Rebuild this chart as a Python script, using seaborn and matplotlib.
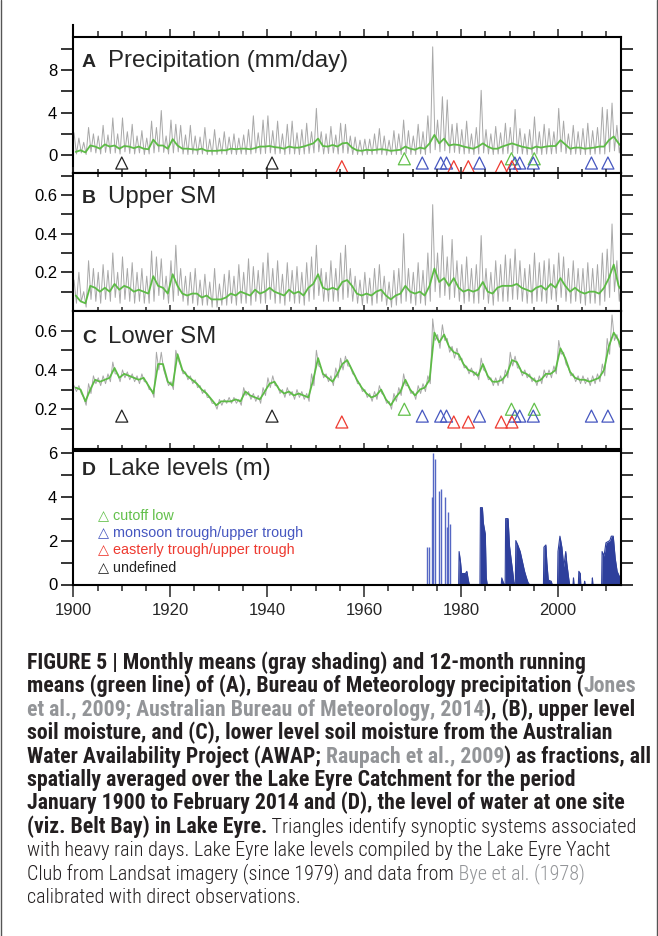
import numpy as np
import matplotlib
matplotlib.use("Agg")
import matplotlib.pyplot as plt
import seaborn as sns
from matplotlib import font_manager as fm
from matplotlib.lines import Line2D
from matplotlib.ticker import FixedLocator, MultipleLocator

# ---- data (one value per year, 1900-2013) ----
years = np.arange(1900, 2014)

# A: precipitation (mm/day) - wet season peak, dry season low, running mean
precip_peak = [2.1, 1.6, 1.2, 2.6, 2.0, 1.8, 2.8, 1.9, 3.5, 2.0,
               3.5, 2.2, 2.9, 1.8, 2.3, 1.6, 3.2, 2.6, 4.2, 1.8,
               3.3, 2.9, 2.8, 1.9, 2.8, 1.8, 1.7, 2.6, 1.5, 2.4,
               1.6, 2.2, 1.7, 2.0, 1.6, 1.9, 2.4, 3.7, 2.1, 3.3,
               3.7, 2.3, 3.2, 2.0, 2.9, 3.2, 2.1, 2.4, 3.0, 2.2,
               4.4, 2.2, 2.0, 2.7, 1.9, 3.0, 2.9, 1.8, 1.7, 1.4,
               1.5, 1.5, 2.0, 2.5, 1.8, 1.4, 2.3, 2.0, 3.3, 2.3,
               1.8, 2.9, 2.2, 3.7, 10.2, 3.3, 5.5, 5.2, 2.9, 3.0,
               2.4, 3.2, 2.0, 2.6, 6.1, 2.4, 2.0, 2.7, 2.1, 3.0,
               2.6, 4.3, 2.5, 2.0, 2.4, 3.6, 2.2, 2.9, 2.5, 2.2,
               4.4, 3.2, 2.0, 2.8, 2.2, 2.5, 3.0, 2.3, 2.6, 4.5,
               4.3, 4.9, 2.8, 1.9]
precip_low = [0.1, 0.2, 0.05, 0.3, 0.2, 0.1, 0.25, 0.15, 0.2, 0.1,
              0.3, 0.15, 0.1, 0.2, 0.05, 0.1, 0.2, 0.3, 0.25, 0.1,
              0.2, 0.3, 0.1, 0.05, 0.1, 0.05, 0.1, 0.05, 0.0, 0.05,
              0.1, 0.05, 0.1, 0.05, 0.1, 0.05, 0.1, 0.2, 0.1, 0.15,
              0.2, 0.1, 0.15, 0.05, 0.1, 0.1, 0.05, 0.1, 0.15, 0.2,
              0.3, 0.1, 0.15, 0.2, 0.1, 0.2, 0.15, 0.05, 0.05, 0.0,
              0.05, 0.05, 0.1, 0.05, 0.0, 0.05, 0.05, 0.05, 0.15, 0.05,
              0.05, 0.1, 0.05, 0.2, 0.5, 0.3, 0.4, 0.2, 0.25, 0.15,
              0.1, 0.15, 0.05, 0.1, 0.2, 0.1, 0.05, 0.1, 0.1, 0.15,
              0.2, 0.15, 0.1, 0.05, 0.05, 0.1, 0.05, 0.1, 0.1, 0.15,
              0.3, 0.15, 0.05, 0.1, 0.05, 0.05, 0.05, 0.1, 0.1, 0.1,
              0.3, 0.4, 0.2, 0.05]
precip_mean = [0.3, 0.45, 0.25, 0.9, 0.8, 0.6, 1.0, 0.8, 0.9, 0.6,
               0.85, 0.8, 0.65, 0.8, 0.6, 0.55, 1.45, 0.9, 0.9, 0.6,
               1.5, 0.9, 0.6, 0.6, 0.55, 0.5, 0.6, 0.4, 0.4, 0.4,
               0.45, 0.45, 0.6, 0.55, 0.6, 0.6, 0.55, 0.65, 0.8, 0.8,
               0.85, 0.75, 0.7, 0.6, 0.8, 0.7, 0.7, 0.8, 0.95, 1.1,
               1.55, 0.85, 0.8, 0.95, 0.8, 1.1, 1.15, 0.7, 0.45, 0.4,
               0.5, 0.45, 0.5, 0.55, 0.5, 0.4, 0.45, 0.5, 0.8, 0.6,
               0.5, 0.7, 0.6, 1.1, 1.9, 1.1, 1.55, 0.9, 1.0, 0.95,
               0.8, 0.7, 0.6, 0.8, 1.1, 0.8, 0.6, 0.6, 0.8, 0.95,
               1.1, 0.95, 0.8, 0.7, 0.6, 0.8, 0.7, 0.8, 0.85, 0.85,
               1.4, 1.0, 0.6, 0.7, 0.7, 0.6, 0.65, 0.7, 0.8, 0.8,
               1.4, 1.75, 1.1, 0.6]

# B: upper soil moisture
usm_peak = [0.16, 0.20, 0.10, 0.26, 0.22, 0.20, 0.24, 0.21, 0.30, 0.20,
            0.28, 0.22, 0.25, 0.20, 0.22, 0.18, 0.31, 0.28, 0.27, 0.18,
            0.26, 0.34, 0.22, 0.18, 0.20, 0.22, 0.16, 0.19, 0.15, 0.22,
            0.14, 0.19, 0.21, 0.18, 0.24, 0.20, 0.27, 0.23, 0.21, 0.25,
            0.30, 0.22, 0.26, 0.19, 0.25, 0.21, 0.23, 0.20, 0.25, 0.28,
            0.34, 0.22, 0.20, 0.26, 0.22, 0.30, 0.34, 0.22, 0.18, 0.16,
            0.20, 0.17, 0.22, 0.24, 0.18, 0.15, 0.21, 0.22, 0.40, 0.22,
            0.20, 0.25, 0.21, 0.30, 0.55, 0.30, 0.39, 0.28, 0.37, 0.26,
            0.24, 0.28, 0.22, 0.24, 0.39, 0.22, 0.20, 0.26, 0.24, 0.29,
            0.27, 0.32, 0.26, 0.22, 0.24, 0.30, 0.25, 0.26, 0.27, 0.24,
            0.30, 0.28, 0.22, 0.26, 0.22, 0.22, 0.25, 0.22, 0.24, 0.30,
            0.32, 0.45, 0.26, 0.18]
usm_low = [0.04, 0.05, 0.02, 0.06, 0.05, 0.04, 0.06, 0.05, 0.07, 0.04,
           0.06, 0.05, 0.04, 0.05, 0.04, 0.04, 0.05, 0.08, 0.06, 0.04,
           0.05, 0.08, 0.05, 0.03, 0.04, 0.03, 0.03, 0.03, 0.02, 0.02,
           0.03, 0.03, 0.04, 0.03, 0.04, 0.04, 0.03, 0.05, 0.04, 0.04,
           0.06, 0.04, 0.04, 0.03, 0.05, 0.04, 0.04, 0.03, 0.05, 0.06,
           0.08, 0.05, 0.05, 0.05, 0.05, 0.06, 0.07, 0.05, 0.04, 0.03,
           0.04, 0.03, 0.04, 0.05, 0.03, 0.02, 0.03, 0.04, 0.05, 0.04,
           0.03, 0.04, 0.03, 0.05, 0.10, 0.07, 0.08, 0.06, 0.07, 0.05,
           0.04, 0.05, 0.04, 0.04, 0.06, 0.04, 0.03, 0.05, 0.05, 0.05,
           0.06, 0.06, 0.05, 0.04, 0.04, 0.05, 0.05, 0.04, 0.06, 0.05,
           0.07, 0.05, 0.04, 0.05, 0.04, 0.03, 0.04, 0.04, 0.03, 0.05,
           0.07, 0.10, 0.05, 0.03]
usm_mean = [0.08, 0.05, 0.04, 0.13, 0.12, 0.10, 0.12, 0.10, 0.14, 0.11,
            0.13, 0.12, 0.10, 0.11, 0.10, 0.09, 0.18, 0.13, 0.12, 0.09,
            0.19, 0.13, 0.09, 0.08, 0.09, 0.09, 0.07, 0.08, 0.06, 0.06,
            0.06, 0.07, 0.09, 0.08, 0.10, 0.09, 0.08, 0.11, 0.09, 0.10,
            0.12, 0.10, 0.09, 0.08, 0.11, 0.09, 0.10, 0.08, 0.12, 0.14,
            0.19, 0.12, 0.11, 0.12, 0.11, 0.15, 0.16, 0.13, 0.09, 0.08,
            0.09, 0.08, 0.10, 0.11, 0.08, 0.06, 0.08, 0.09, 0.13, 0.10,
            0.09, 0.10, 0.08, 0.13, 0.22, 0.15, 0.17, 0.13, 0.17, 0.12,
            0.10, 0.11, 0.10, 0.11, 0.15, 0.10, 0.09, 0.12, 0.13, 0.13,
            0.13, 0.14, 0.12, 0.11, 0.10, 0.12, 0.13, 0.11, 0.14, 0.12,
            0.17, 0.13, 0.10, 0.12, 0.10, 0.09, 0.10, 0.10, 0.09, 0.12,
            0.17, 0.24, 0.13, 0.09]

# C: lower soil moisture
lsm_peak = [0.32, 0.32, 0.26, 0.33, 0.37, 0.36, 0.37, 0.38, 0.44, 0.38,
            0.40, 0.39, 0.38, 0.37, 0.38, 0.34, 0.30, 0.49, 0.49, 0.36,
            0.34, 0.50, 0.42, 0.39, 0.37, 0.35, 0.32, 0.30, 0.26, 0.23,
            0.25, 0.25, 0.26, 0.26, 0.25, 0.31, 0.29, 0.28, 0.27, 0.31,
            0.36, 0.37, 0.32, 0.30, 0.31, 0.29, 0.30, 0.29, 0.28, 0.38,
            0.50, 0.41, 0.38, 0.37, 0.41, 0.46, 0.47, 0.42, 0.37, 0.33,
            0.30, 0.28, 0.29, 0.32, 0.27, 0.24, 0.28, 0.31, 0.38, 0.32,
            0.29, 0.32, 0.33, 0.37, 0.66, 0.58, 0.63, 0.56, 0.52, 0.51,
            0.46, 0.42, 0.41, 0.39, 0.46, 0.39, 0.36, 0.36, 0.37, 0.40,
            0.49, 0.47, 0.41, 0.40, 0.38, 0.36, 0.37, 0.40, 0.40, 0.42,
            0.55, 0.49, 0.41, 0.38, 0.37, 0.37, 0.36, 0.37, 0.38, 0.43,
            0.56, 0.68, 0.58, 0.50]
lsm_low = [0.29, 0.28, 0.22, 0.28, 0.33, 0.32, 0.33, 0.34, 0.38, 0.34,
           0.36, 0.35, 0.34, 0.33, 0.34, 0.30, 0.26, 0.40, 0.40, 0.32,
           0.30, 0.45, 0.38, 0.35, 0.33, 0.31, 0.28, 0.26, 0.23, 0.20,
           0.22, 0.23, 0.23, 0.23, 0.22, 0.27, 0.25, 0.24, 0.23, 0.27,
           0.31, 0.32, 0.28, 0.26, 0.27, 0.25, 0.26, 0.25, 0.24, 0.32,
           0.42, 0.36, 0.34, 0.32, 0.36, 0.40, 0.42, 0.38, 0.33, 0.29,
           0.26, 0.24, 0.25, 0.28, 0.23, 0.20, 0.24, 0.27, 0.32, 0.28,
           0.25, 0.28, 0.29, 0.33, 0.55, 0.51, 0.55, 0.49, 0.46, 0.45,
           0.41, 0.38, 0.37, 0.35, 0.40, 0.35, 0.32, 0.32, 0.33, 0.36,
           0.42, 0.41, 0.37, 0.36, 0.34, 0.32, 0.33, 0.36, 0.36, 0.38,
           0.48, 0.43, 0.37, 0.34, 0.33, 0.33, 0.32, 0.33, 0.34, 0.37,
           0.48, 0.55, 0.52, 0.46]
lsm_mean = [0.31, 0.30, 0.24, 0.30, 0.35, 0.34, 0.35, 0.36, 0.41, 0.36,
            0.38, 0.37, 0.36, 0.35, 0.36, 0.32, 0.28, 0.43, 0.43, 0.34,
            0.32, 0.48, 0.40, 0.37, 0.35, 0.33, 0.30, 0.28, 0.25, 0.22,
            0.24, 0.24, 0.24, 0.25, 0.24, 0.29, 0.27, 0.26, 0.25, 0.29,
            0.33, 0.34, 0.30, 0.28, 0.29, 0.27, 0.28, 0.27, 0.26, 0.35,
            0.46, 0.38, 0.36, 0.34, 0.38, 0.43, 0.45, 0.40, 0.35, 0.31,
            0.28, 0.26, 0.27, 0.30, 0.25, 0.22, 0.26, 0.29, 0.35, 0.30,
            0.27, 0.30, 0.31, 0.35, 0.59, 0.54, 0.58, 0.52, 0.49, 0.48,
            0.43, 0.40, 0.39, 0.37, 0.43, 0.37, 0.34, 0.34, 0.35, 0.38,
            0.45, 0.44, 0.39, 0.38, 0.36, 0.34, 0.35, 0.38, 0.38, 0.40,
            0.51, 0.46, 0.39, 0.36, 0.35, 0.35, 0.34, 0.35, 0.36, 0.40,
            0.52, 0.59, 0.55, 0.48]

# synoptic systems on heavy rain days (decimal year)
cutoff_years = [1968.3, 1990.4, 1995.1]
monsoon_years = [1972.0, 1975.8, 1977.0, 1983.8, 1991.1, 1992.1, 1994.9, 2006.9, 2010.3]
easterly_years = [1955.4, 1978.5, 1981.5, 1988.3, 1990.5]
undefined_years = [1910.0, 1941.0]

# D: lake levels (m)
early_year = [1972.9, 1973.4, 1974.0, 1974.2, 1974.6, 1975.5, 1975.9, 1976.7, 1977.1, 1977.3, 1977.7]
early_level = [1.7, 1.7, 4.0, 6.0, 5.7, 4.25, 4.35, 4.0, 2.6, 3.3, 2.75]
late_year = [1979.5, 1979.6, 1979.9, 1980.1, 1980.9, 1981.2, 1981.5, 1981.7,
             1983.9, 1984.0, 1984.4, 1984.6, 1985.0, 1985.2, 1985.4,
             1988.3, 1988.4, 1988.7, 1988.9,
             1989.1, 1989.2, 1989.7, 1990.0, 1990.3, 1990.7, 1990.9, 1991.2,
             1991.3, 1991.7, 1992.2, 1992.7, 1993.1, 1993.5, 1993.8, 1994.1,
             1997.0, 1997.1, 1997.5, 1997.7, 1998.0, 1998.6, 1998.8,
             1999.9, 2000.0, 2000.4, 2000.8, 2001.2, 2001.6, 2001.8, 2002.2, 2002.4,
             2003.1, 2003.2, 2003.3,
             2004.2, 2004.3, 2004.6, 2004.7,
             2005.4, 2005.5, 2005.6,
             2007.0, 2007.1, 2007.2,
             2009.0, 2009.1, 2009.5, 2009.9, 2010.3, 2010.7, 2011.0, 2011.4,
             2011.8, 2012.2, 2012.6, 2013.0]
late_level = [0, 1.5, 1.0, 0.5, 0.5, 0.6, 0.2, 0,
              0, 3.5, 3.5, 2.8, 2.3, 0.3, 0,
              0, 0.3, 0.1, 0,
              0, 3.0, 3.0, 1.75, 1.2, 0.5, 0.1, 0,
              2.0, 1.8, 1.5, 1.0, 0.6, 0.3, 0.1, 0,
              0, 1.7, 1.8, 1.0, 0.2, 0.15, 0,
              0, 1.5, 2.2, 1.7, 0.8, 1.5, 1.0, 0.3, 0,
              0, 0.3, 0,
              0, 0.6, 0.5, 0,
              0, 0.15, 0,
              0, 0.3, 0,
              0, 1.5, 1.3, 1.9, 1.95, 2.0, 2.2, 2.2,
              1.2, 0.6, 0.4, 0.2]

legend_labels = ['cutoff low', 'monsoon trough/upper trough',
                 'easterly trough/upper trough', 'undefined']

# ---- style ----
sns.set_style("ticks")
plt.rcParams['font.family'] = ['Liberation Sans', 'DejaVu Sans']

GRAY = '#a8a8a8'
GREEN = '#5dbb46'
COLORS = {'cutoff': '#62c04a', 'monsoon': '#4657c0', 'easterly': '#ee3a30', 'undefined': '#222222'}
LAKE = '#2e3f9c'

W, H = 658, 936
fig = plt.figure(figsize=(W / 100, H / 100), dpi=100)


def add_panel(top, bottom, left=73.3, right=621):
    return fig.add_axes([left / W, 1 - bottom / H, (right - left) / W, (bottom - top) / H])


axA = add_panel(37.3, 173.3)
axB = add_panel(173.3, 311)
axC = add_panel(311, 448.5)
axD = add_panel(450.5, 584.5)


def zigzag(hi, lo):
    t = np.column_stack([years + 0.15, years + 0.65]).ravel()
    v = np.column_stack([hi, lo]).ravel()
    return t, v


for ax, hi, lo, mean in [(axA, precip_peak, precip_low, precip_mean),
                         (axB, usm_peak, usm_low, usm_mean),
                         (axC, lsm_peak, lsm_low, lsm_mean)]:
    t, v = zigzag(hi, lo)
    sns.lineplot(x=t, y=v, ax=ax, color=GRAY, lw=0.7, estimator=None, sort=False)
    sns.lineplot(x=years + 0.5, y=mean, ax=ax, color=GREEN, lw=1.3, estimator=None)

# triangles in A and C
tri_levels = {axA: {'cutoff': -0.35, 'monsoon': -0.75, 'easterly': -1.1, 'undefined': -0.75},
              axC: {'cutoff': 0.2, 'monsoon': 0.165, 'easterly': 0.135, 'undefined': 0.165}}
tri_years = {'cutoff': cutoff_years, 'monsoon': monsoon_years,
             'easterly': easterly_years, 'undefined': undefined_years}
for ax, lev in tri_levels.items():
    for kind, yrs in tri_years.items():
        sns.scatterplot(x=yrs, y=[lev[kind]] * len(yrs), ax=ax, marker='^', s=75,
                        color=COLORS[kind], facecolor='none', edgecolor=COLORS[kind],
                        linewidth=0.9, zorder=4)

# lake levels
axD.vlines(early_year, 0, early_level, color='#5567c4', lw=1.0)
axD.fill_between(late_year, 0, late_level, color=LAKE, lw=0)
axD.plot(late_year, late_level, color=LAKE, lw=0.8)
axD.axhline(0, xmin=(1985 - 1900) / 113, color=LAKE, lw=1)

# legend text in D
leg_y = [0.517, 0.387, 0.257, 0.127]
for lab, kind, yy in zip(legend_labels, ['cutoff', 'monsoon', 'easterly', 'undefined'], leg_y):
    axD.text(0.045, yy, '\u25b3 ' + lab, transform=axD.transAxes, color=COLORS[kind],
             fontsize=10.4, va='center', ha='left', family=['Liberation Sans', 'DejaVu Sans'])

# axes formatting
ylims = {axA: (-1.72, 11.1), axB: (0, 0.712), axC: (0, 0.70), axD: (0, 6.1)}
ymaj = {axA: [0, 4, 8], axB: [0.2, 0.4, 0.6], axC: [0.2, 0.4, 0.6], axD: [0, 2, 4, 6]}
ymin = {axA: [2, 6, 10], axB: [0.1, 0.3, 0.5, 0.7], axC: [0.1, 0.3, 0.5], axD: [1, 3, 5]}
for ax in [axA, axB, axC, axD]:
    ax.set_xlim(1900, 2013)
    ax.set_ylim(*ylims[ax])
    ax.xaxis.set_major_locator(MultipleLocator(20))
    ax.xaxis.set_minor_locator(MultipleLocator(5))
    ax.yaxis.set_major_locator(FixedLocator(ymaj[ax]))
    ax.yaxis.set_minor_locator(FixedLocator(ymin[ax]))
    ax.set_xlabel('')
    ax.set_ylabel('')
    for sp in ax.spines.values():
        sp.set_visible(True)
        sp.set_linewidth(1.5)
        sp.set_color('black')
    ax.tick_params(axis='y', which='both', left=True, right=True, direction='out',
                   length=8.5, width=1.1, labelsize=12, pad=3, colors='black')
    ax.tick_params(axis='x', which='both', labelbottom=False, labeltop=False, width=1.1)

axB.yaxis.set_major_formatter(plt.FuncFormatter(lambda v, p: f'{v:.1f}'))
axC.yaxis.set_major_formatter(plt.FuncFormatter(lambda v, p: f'{v:.1f}'))

axA.tick_params(axis='x', which='both', top=True, bottom=False, direction='out')
axA.tick_params(axis='x', which='major', length=6)
axA.tick_params(axis='x', which='minor', length=4.3)
axB.tick_params(axis='x', which='both', top=True, bottom=True, direction='inout')
axB.tick_params(axis='x', which='major', length=9)
axB.tick_params(axis='x', which='minor', length=6)
axC.tick_params(axis='x', which='both', top=False, bottom=True, direction='inout')
axC.tick_params(axis='x', which='major', length=9)
axC.tick_params(axis='x', which='minor', length=6)
axD.tick_params(axis='x', which='both', top=False, bottom=True, direction='out',
                labelbottom=True, labelsize=12, pad=5)
axD.tick_params(axis='x', which='major', length=8.5)
axD.tick_params(axis='x', which='minor', length=4.3)

axA.spines['left'].set_bounds(-1.72, 12.25)

# panel titles
titles = [(axA, 'A', 'Precipitation (mm/day)', 29.4),
          (axB, 'B', 'Upper SM', 30.0),
          (axC, 'C', 'Lower SM', 32.3),
          (axD, 'D', 'Lake levels (m)', 24.5)]
for ax, letter, name, off in titles:
    pos = ax.get_position()
    hpx = pos.height * H
    yy = 1 - off / hpx
    ax.text(8.6 / 547.7, yy, letter, transform=ax.transAxes, fontsize=14,
            fontweight='bold', va='baseline', ha='left')
    ax.text(35 / 547.7, yy, name, transform=ax.transAxes, fontsize=17.3,
            va='baseline', ha='left')

# ---- caption ----
names = {f.name for f in fm.fontManager.ttflist}
cap_font = next((n for n in ['Liberation Sans Narrow', 'DejaVu Sans Condensed', 'Roboto Condensed']
                 if n in names), 'Liberation Sans')

caption = [
    [("FIGURE 5 | Monthly means (gray shading) and 12-month running", 'b')],
    [("means (green line) of (A), Bureau of Meteorology precipitation (", 'b'), ("Jones", 'bg')],
    [("et al., 2009; Australian Bureau of Meteorology, 2014", 'bg'), ("), (B), upper level", 'b')],
    [("soil moisture, and (C), lower level soil moisture from the Australian", 'b')],
    [("Water Availability Project (AWAP;", 'b'), (" Raupach et al., 2009", 'bg'), (") as fractions, all", 'b')],
    [("spatially averaged over the Lake Eyre Catchment for the period", 'b')],
    [("January 1900 to February 2014 and (D), the level of water at one site", 'b')],
    [("(viz. Belt Bay) in Lake Eyre.", 'b'), (" Triangles identify synoptic systems associated", 'r')],
    [("with heavy rain days. Lake Eyre lake levels compiled by the Lake Eyre Yacht", 'r')],
    [("Club from Landsat imagery (since 1979) and data from", 'r'), (" Bye et al. (1978)", 'rg')],
    [("calibrated with direct observations.", 'r')],
]
# right edge (px) of each caption line in the reference, None = not justified
cap_right = [620, 634, 632, 632, 636, 606, 634, 648, 648, None, None]
cap_colors = {'b': '#231f20', 'bg': '#939598', 'r': '#231f20', 'rg': '#939598'}

renderer = fig.canvas.get_renderer()


def seg_width(s, size, bold):
    t = fig.text(0, 0, s, fontsize=size, fontweight='bold' if bold else 'light',
                 family=[cap_font, 'DejaVu Sans'])
    w = t.get_window_extent(renderer).width
    t.remove()
    return w


bold_base = 10 * 593 / seg_width(caption[0][0][0], 10, True)
reg_base = 10 * 621 / seg_width(caption[8][0][0], 10, False)

# one common size for the whole caption: the median fit, but never past the page edge
fits, limits = [], []
for segs, right in zip(caption, cap_right):
    if right is None:
        continue
    wsum = sum(seg_width(s, bold_base if st.startswith('b') else reg_base, st.startswith('b'))
               for s, st in segs)
    fits.append((right - 27) / wsum)
    limits.append((650 - 27) / wsum)
scale = min(float(np.median(fits)), min(limits))

for i, segs in enumerate(caption):
    x = 27.0
    yb = 1 - (669 + 23.4 * i) / H
    for s, sty in segs:
        bold = sty.startswith('b')
        size = (bold_base if bold else reg_base) * scale
        t = fig.text(x / W, yb, s, fontsize=size,
                     fontweight='bold' if bold else 'light', color=cap_colors[sty],
                     family=[cap_font, 'DejaVu Sans'], va='baseline', ha='left')
        x = t.get_window_extent(renderer).x1

# frame lines at the left and right edges of the page
for xe in (1.0 / W, (W - 1.5) / W):
    fig.add_artist(Line2D([xe, xe], [0, 1], transform=fig.transFigure, color='#555555', lw=1))

fig.savefig('out.png', dpi=100)
